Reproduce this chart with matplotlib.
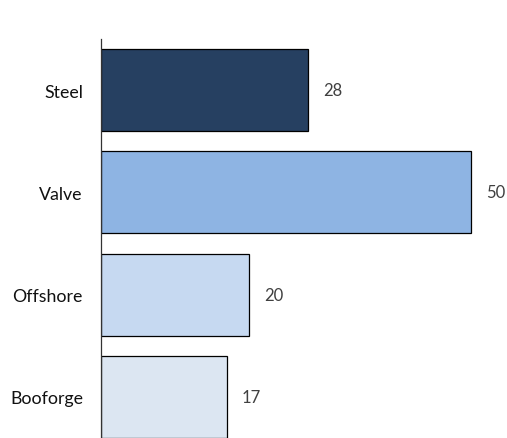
import matplotlib
matplotlib.use('Agg')
import matplotlib.pyplot as plt

categories = ['Steel', 'Valve', 'Offshore', 'Booforge']
values = [28, 50, 20, 17]
colors = ['#264061', '#8EB4E3', '#C6D9F1', '#DCE6F2']

plt.rcParams['font.family'] = ['Lato', 'DejaVu Sans']

W, H = 507, 439
fig = plt.figure(figsize=(W / 100, H / 100), dpi=100)
# axes runs past the bottom of the figure, like the cropped original
left, top, bottom = 101, 40, 449
ax = fig.add_axes([left / W, 1 - bottom / H, 55 * 7.4 / W, (bottom - top) / H])

pos = list(range(len(categories)))
ax.barh(pos, values, height=0.8, color=colors, edgecolor='black', linewidth=0.9)
for p, v in zip(pos, values):
    ax.text(v + 2, p, str(v), va='center', ha='left', fontsize=12, color='#404040')

ax.set_yticks(pos)
ax.set_yticklabels(categories, fontsize=12.8, color='#111111')
ax.tick_params(axis='y', length=0, pad=13)
ax.set_xticks([])
ax.set_xlim(0, 55)
ax.set_ylim(len(categories) - 0.5, -0.5)
for s in ['top', 'right', 'bottom']:
    ax.spines[s].set_visible(False)
ax.spines['left'].set_linewidth(0.9)
ax.spines['left'].set_color('#333333')

fig.savefig('out.png', dpi=100)
